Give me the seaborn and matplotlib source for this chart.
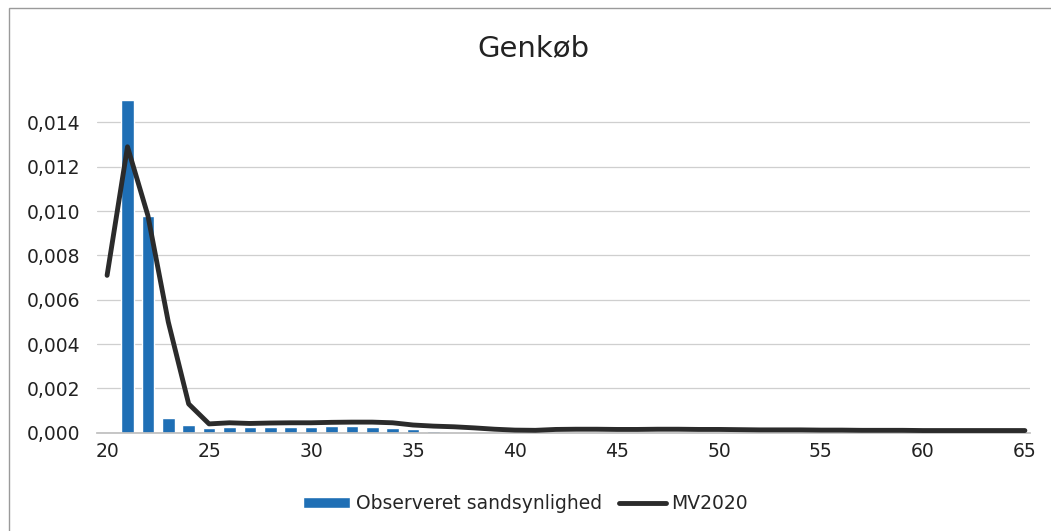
import matplotlib
matplotlib.use("Agg")
import matplotlib.pyplot as plt
import seaborn as sns
import numpy as np
from matplotlib.ticker import FuncFormatter
from matplotlib.patches import Rectangle

# Data (age 20..65)
ages = list(range(20, 66))
observed = [0.0, 0.0150, 0.0098, 0.00067, 0.00035, 0.00020, 0.00028, 0.00026, 0.00028, 0.00027,
            0.00028, 0.00030, 0.00030, 0.00026, 0.00020, 0.00015, 0.00008, 0.00004, 0.0, 0.0,
            0.0, 0.0, 0.0, 0.0, 0.0, 0.0, 0.0, 0.0, 0.0, 0.0,
            0.0, 0.0, 0.0, 0.0, 0.0, 0.0, 0.0, 0.0, 0.0, 0.0,
            0.0, 0.0, 0.0, 0.0, 0.0, 0.0]
mv2020 = [0.0071, 0.0129, 0.0098, 0.0050, 0.0013, 0.00040, 0.00045, 0.00042, 0.00044, 0.00045,
          0.00045, 0.00047, 0.00048, 0.00048, 0.00045, 0.00035, 0.00030, 0.00027, 0.00022, 0.00016,
          0.00012, 0.00011, 0.00015, 0.00016, 0.00016, 0.00015, 0.00015, 0.00016, 0.00016, 0.00015,
          0.00015, 0.00014, 0.00013, 0.00013, 0.00013, 0.00012, 0.00012, 0.00011, 0.00011, 0.00011,
          0.00010, 0.00010, 0.00010, 0.00010, 0.00010, 0.00010]
yticks = [0.000, 0.002, 0.004, 0.006, 0.008, 0.010, 0.012, 0.014]
xticks = list(range(20, 66, 5))

sns.set_theme(style="white")
plt.rcParams['font.family'] = ['DejaVu Sans']

fig = plt.figure(figsize=(10.51, 5.31), dpi=100)
ax = fig.add_axes([0.092, 0.185, 0.888, 0.668])

sns.barplot(x=ages, y=observed, native_scale=True, width=0.62, color="#1F6FB5",
            saturation=1, ax=ax, label="Observeret sandsynlighed", zorder=2)
sns.lineplot(x=ages, y=mv2020, color="#2b2b2b", linewidth=3.5, ax=ax,
             label="MV2020", zorder=3)

ax.set_xlim(19.49, 65.25)
ax.set_ylim(0, 0.016)
ax.set_yticks(yticks)
ax.set_xticks(xticks)
ax.yaxis.set_major_formatter(FuncFormatter(lambda v, p: f"{v:.3f}".replace(".", ",")))
ax.tick_params(axis="both", labelsize=13.5, length=0, colors="#222222")
ax.tick_params(axis="y", pad=12)
ax.tick_params(axis="x", pad=7)
ax.grid(axis="y", color="#cfcfcf", linewidth=0.9)
ax.set_axisbelow(True)
for s in ["top", "right", "left"]:
    ax.spines[s].set_visible(False)
ax.spines["bottom"].set_color("#bfbfbf")
ax.set_xlabel("")
ax.set_ylabel("")

fig.text(0.508, 0.91, "Genkøb", ha="center", va="center", fontsize=21, color="#222222")

ax.legend_.remove()
h, l = ax.get_legend_handles_labels()
order = [l.index("Observeret sandsynlighed"), l.index("MV2020")]
fig.legend([h[i] for i in order], [l[i] for i in order], loc="center",
           bbox_to_anchor=(0.50, 0.052), ncol=2, frameon=False,
           fontsize=13.5, handlelength=2.5, handleheight=0.5, columnspacing=0.9,
           handletextpad=0.3)

fig.add_artist(Rectangle((0.009, -0.02), 1.0, 1.005, transform=fig.transFigure,
                         fill=False, edgecolor="#9a9a9a", linewidth=1.0))

fig.savefig("out.png", dpi=100)
